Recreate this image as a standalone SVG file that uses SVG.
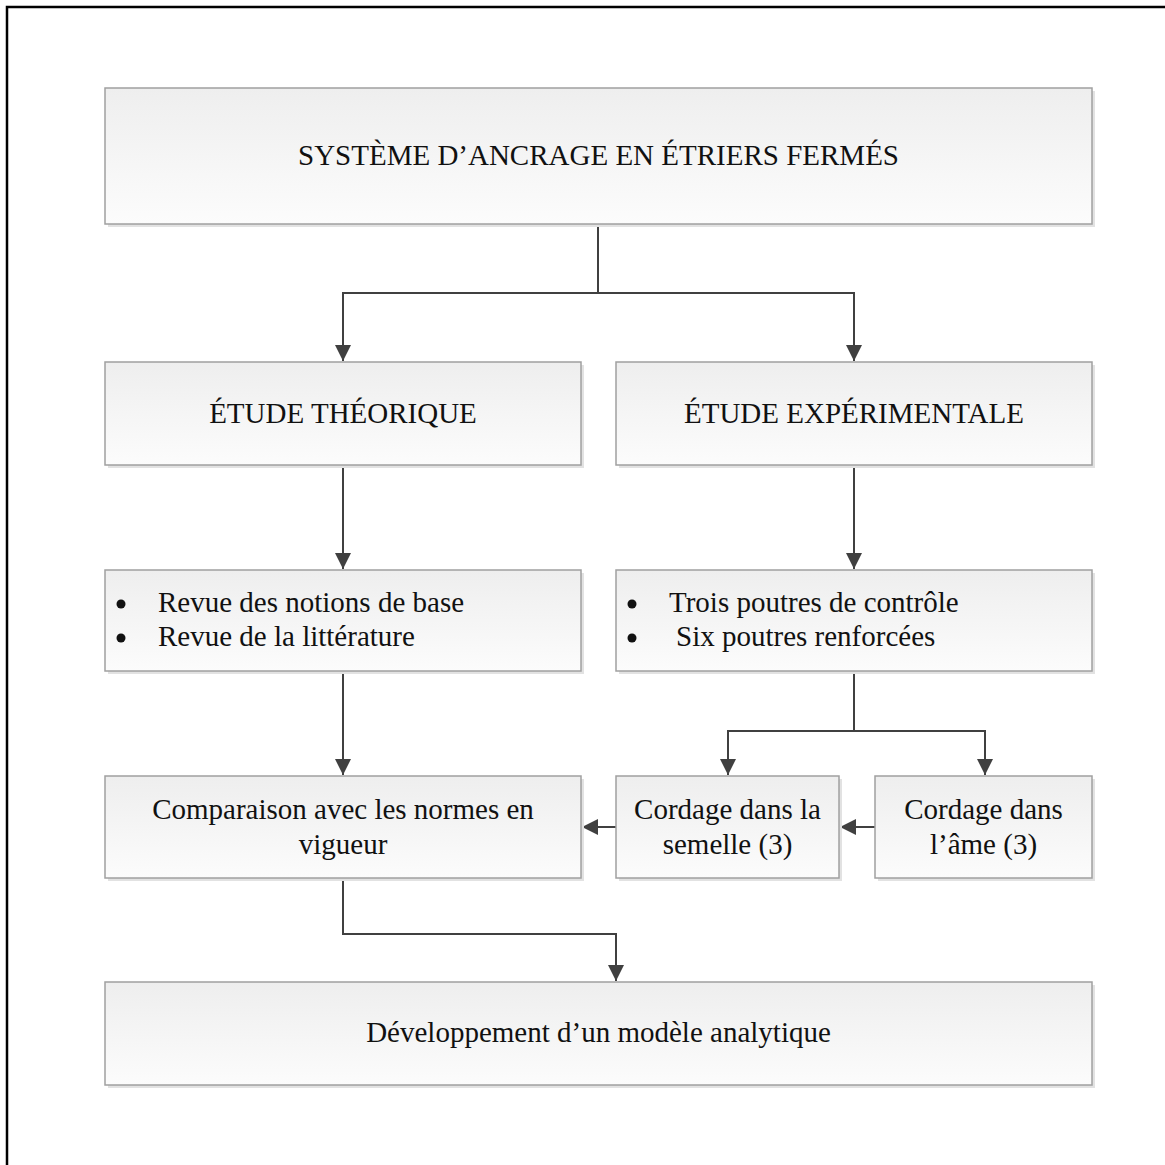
<svg xmlns="http://www.w3.org/2000/svg" width="1165" height="1165" viewBox="0 0 1165 1165">
<defs>
<linearGradient id="g" x1="0" y1="0" x2="0" y2="1">
<stop offset="0" stop-color="#eeeeee"/>
<stop offset="1" stop-color="#fcfcfc"/>
</linearGradient>
<marker id="ah" markerWidth="16" markerHeight="16" viewBox="0 0 16 16" refX="16" refY="8" orient="auto" markerUnits="userSpaceOnUse">
<path d="M0,0 L16,8 L0,16 Z" fill="#404040"/>
</marker>
</defs>
<style>
.box{fill:url(#g);stroke:#a0a0a0;stroke-width:1.5}
.sh{fill:#e2e2e2}
.t{font-family:"Liberation Serif","Times New Roman",serif;font-size:29px;fill:#111}
.c{stroke:#404040;stroke-width:2;fill:none}
</style>
<rect x="7" y="7" width="1170" height="1170" fill="#ffffff" stroke="#000" stroke-width="2.5"/>

<g id="connectors">
<path class="c" d="M598,225 V293 H343 V361" marker-end="url(#ah)"/>
<path class="c" d="M598,293 H854 V361" marker-end="url(#ah)"/>
<path class="c" d="M343,466 V569" marker-end="url(#ah)"/>
<path class="c" d="M854,466 V569" marker-end="url(#ah)"/>
<path class="c" d="M343,672 V775" marker-end="url(#ah)"/>
<path class="c" d="M854,672 V731 H728 V775" marker-end="url(#ah)"/>
<path class="c" d="M854,731 H985 V775" marker-end="url(#ah)"/>
<path class="c" d="M875,827 H840" marker-end="url(#ah)"/>
<path class="c" d="M616,827 H582" marker-end="url(#ah)"/>
<path class="c" d="M343,879 V934 H616 V981" marker-end="url(#ah)"/>
</g>

<g id="n1">
<rect class="sh" x="108" y="91" width="987" height="136"/>
<rect class="box" x="105" y="88" width="987" height="136"/>
<text class="t" x="598.5" y="165" text-anchor="middle">SYSTÈME D’ANCRAGE EN ÉTRIERS FERMÉS</text>
</g>
<g id="n2">
<rect class="sh" x="108" y="365" width="476" height="103"/>
<rect class="box" x="105" y="362" width="476" height="103"/>
<text class="t" x="343" y="423" text-anchor="middle">ÉTUDE THÉORIQUE</text>
</g>
<g id="n3">
<rect class="sh" x="619" y="365" width="476" height="103"/>
<rect class="box" x="616" y="362" width="476" height="103"/>
<text class="t" x="854" y="423" text-anchor="middle">ÉTUDE EXPÉRIMENTALE</text>
</g>
<g id="n4">
<rect class="sh" x="108" y="573" width="476" height="101"/>
<rect class="box" x="105" y="570" width="476" height="101"/>
<circle cx="121" cy="604" r="4.5" fill="#111"/>
<circle cx="121" cy="638" r="4.5" fill="#111"/>
<text class="t" x="158" y="612">Revue des notions de base</text>
<text class="t" x="158" y="646">Revue de la littérature</text>
</g>
<g id="n5">
<rect class="sh" x="619" y="573" width="476" height="101"/>
<rect class="box" x="616" y="570" width="476" height="101"/>
<circle cx="632" cy="604" r="4.5" fill="#111"/>
<circle cx="632" cy="638" r="4.5" fill="#111"/>
<text class="t" x="669" y="612">Trois poutres de contrôle</text>
<text class="t" x="676" y="646">Six poutres renforcées</text>
</g>
<g id="n6">
<rect class="sh" x="108" y="779" width="476" height="102"/>
<rect class="box" x="105" y="776" width="476" height="102"/>
<text class="t" x="343" y="819" text-anchor="middle">Comparaison avec les normes en</text>
<text class="t" x="343" y="854" text-anchor="middle">vigueur</text>
</g>
<g id="n7">
<rect class="sh" x="619" y="779" width="223" height="102"/>
<rect class="box" x="616" y="776" width="223" height="102"/>
<text class="t" x="727.5" y="819" text-anchor="middle">Cordage dans la</text>
<text class="t" x="727.5" y="854" text-anchor="middle">semelle (3)</text>
</g>
<g id="n8">
<rect class="sh" x="878" y="779" width="217" height="102"/>
<rect class="box" x="875" y="776" width="217" height="102"/>
<text class="t" x="983.5" y="819" text-anchor="middle">Cordage dans</text>
<text class="t" x="983.5" y="854" text-anchor="middle">l’âme (3)</text>
</g>
<g id="n9">
<rect class="sh" x="108" y="985" width="987" height="103"/>
<rect class="box" x="105" y="982" width="987" height="103"/>
<text class="t" x="598.5" y="1042" text-anchor="middle">Développement d’un modèle analytique</text>
</g>
</svg>
